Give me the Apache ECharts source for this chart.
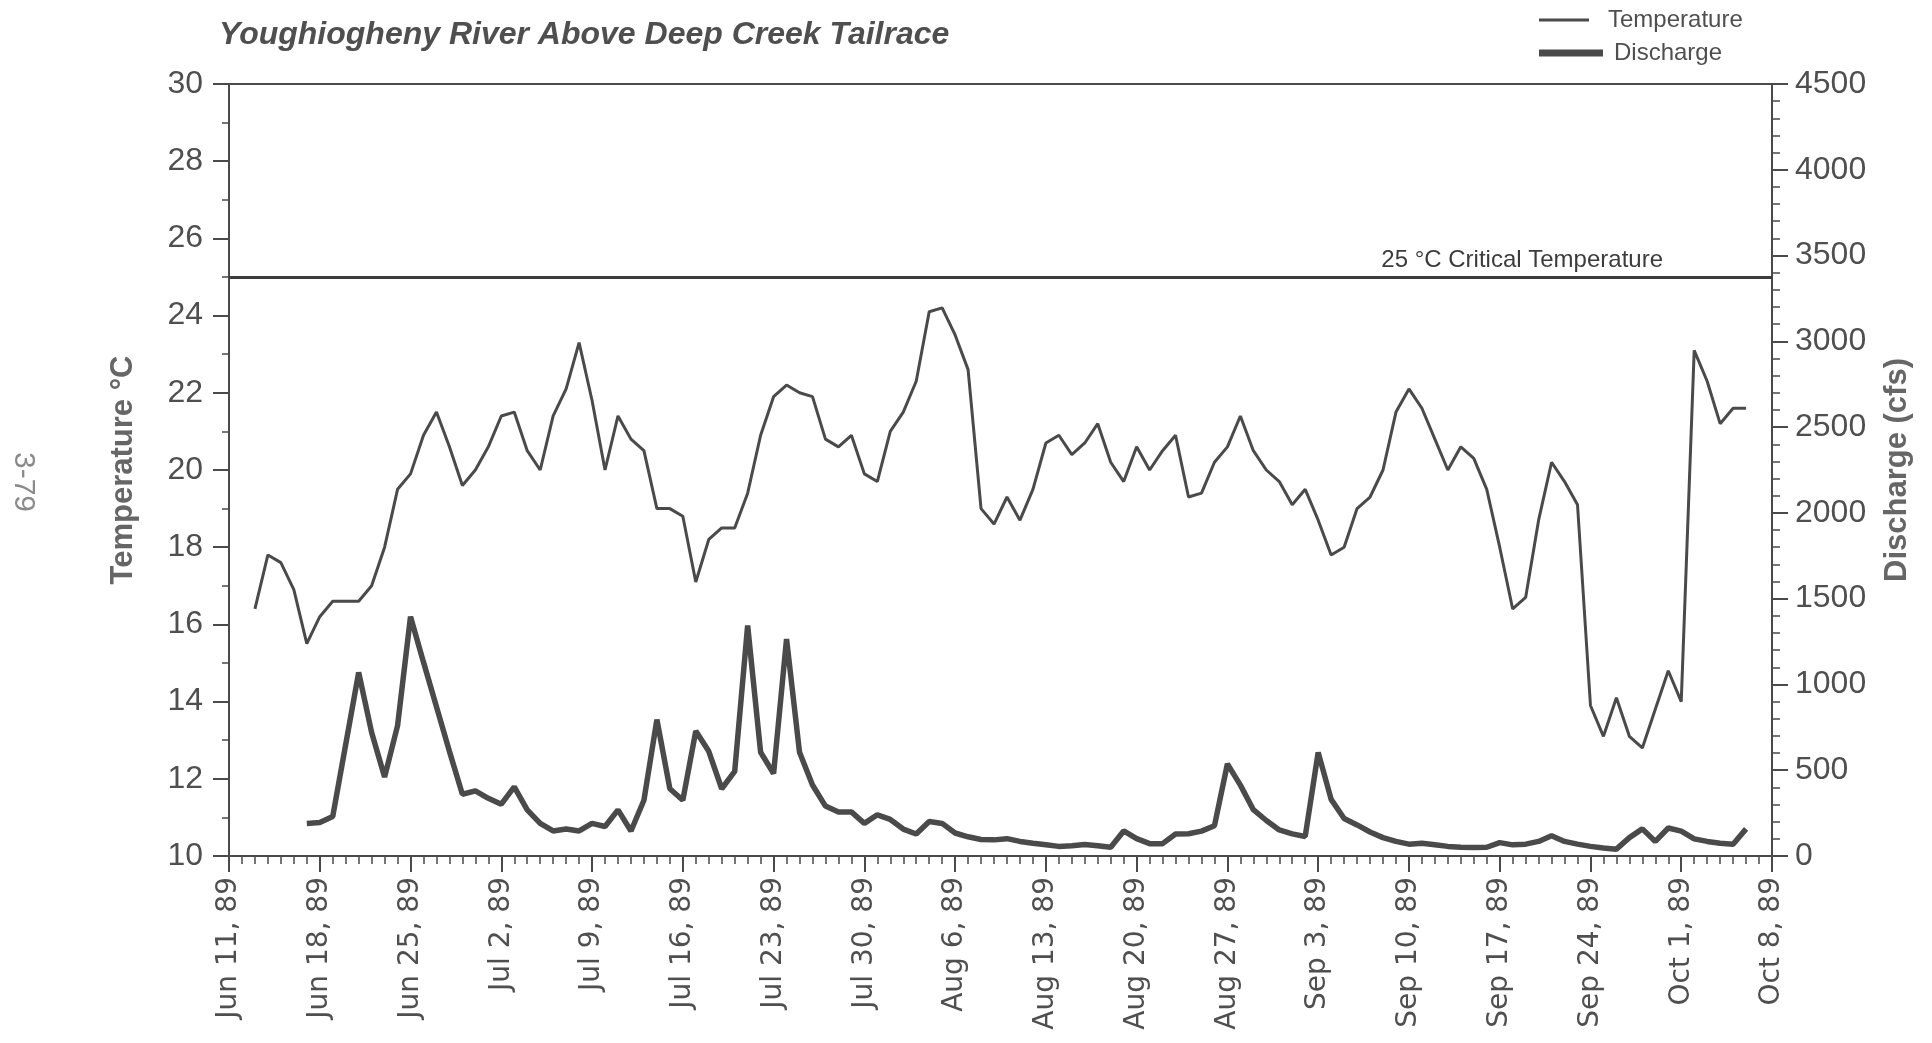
<!DOCTYPE html>
<html>
<head>
<meta charset="utf-8">
<script src="https://cdn.jsdelivr.net/npm/echarts@6/dist/echarts.min.js"></script>
<style>
html,body{margin:0;padding:0;background:#fff;}
#chart{width:1932px;height:1043px;}
</style>
</head>
<body>
<div id="chart"></div>
<script>
// Axis: days counted from Jun 11, 1989 (day 0) to Oct 8, 1989 (day 119)
const weekLabels = ['Jun 11, 89','Jun 18, 89','Jun 25, 89','Jul 2, 89','Jul 9, 89','Jul 16, 89','Jul 23, 89','Jul 30, 89','Aug 6, 89','Aug 13, 89','Aug 20, 89','Aug 27, 89','Sep 3, 89','Sep 10, 89','Sep 17, 89','Sep 24, 89','Oct 1, 89','Oct 8, 89'];
const axisStartDate = '1989-06-11';

// Daily water temperature (°C), first value on Jun 13, 1989
const tempStartDate = '1989-06-13';
const temperature = [
  16.4,17.8,17.6,16.9,15.5,16.2,16.6,16.6,16.6,17.0,18.0,19.5,19.9,20.9,21.5,20.6,19.6,20.0,20.6,21.4,
  21.5,20.5,20.0,21.4,22.1,23.3,21.8,20.0,21.4,20.8,20.5,19.0,19.0,18.8,17.1,18.2,18.5,18.5,19.4,20.9,
  21.9,22.2,22.0,21.9,20.8,20.6,20.9,19.9,19.7,21.0,21.5,22.3,24.1,24.2,23.5,22.6,19.0,18.6,19.3,18.7,
  19.5,20.7,20.9,20.4,20.7,21.2,20.2,19.7,20.6,20.0,20.5,20.9,19.3,19.4,20.2,20.6,21.4,20.5,20.0,19.7,
  19.1,19.5,18.7,17.8,18.0,19.0,19.3,20.0,21.5,22.1,21.6,20.8,20.0,20.6,20.3,19.5,18.0,16.4,16.7,18.7,
  20.2,19.7,19.1,13.9,13.1,14.1,13.1,12.8,13.8,14.8,14.0,23.1,22.3,21.2,21.6,21.6
];

// Daily discharge (cfs), first value on Jun 17, 1989
const dischargeStartDate = '1989-06-17';
const discharge = [
  190,195,230,650,1070,720,460,760,1395,1130,870,610,360,380,336,302,403,269,190,146,
  157,146,190,172,269,146,325,795,392,325,728,610,392,493,1343,605,481,1265,605,414,
  291,257,257,190,240,213,157,128,201,190,134,112,96,94,101,85,74,65,56,60,
  67,60,51,146,101,72,72,128,130,145,176,537,413,270,207,152,129,114,604,330,
  219,181,140,107,85,69,74,65,56,51,49,51,78,65,69,85,118,85,69,56,
  47,40,107,158,85,163,145,100,85,74,69,158
];

const criticalTemp = 25;

function dayOffset(dateStr){
  return Math.round((Date.parse(dateStr) - Date.parse(axisStartDate)) / 86400000);
}
function toXY(startDate, values){
  const s = dayOffset(startDate);
  return values.map((v,i)=>[s+i, v]);
}

const LINE = '#4a4a4a';
const TXT = '#4f4f4f';
const FONT = '"Liberation Sans", Arial, Helvetica, sans-serif';
const WIDE = '"DejaVu Sans", Verdana, sans-serif';

const chart = echarts.init(document.getElementById('chart'));
chart.setOption({
  backgroundColor:'#fff',
  animation:false,
  title:{
    text:'Youghiogheny River Above Deep Creek Tailrace',
    left:214, top:14,
    textStyle:{fontFamily:FONT, fontSize:32, fontWeight:'bold', fontStyle:'italic', color:TXT}
  },
  legend:[
    {data:[{name:'Temperature', icon:'rect'}], left:1534, top:3, itemWidth:50, itemHeight:3, itemGap:0,
     textStyle:{fontFamily:FONT, fontSize:24, color:TXT, padding:[0,0,0,14]}},
    {data:[{name:'Discharge', icon:'rect'}], left:1534, top:36, itemWidth:64, itemHeight:7, itemGap:0,
     textStyle:{fontFamily:FONT, fontSize:24, color:TXT, padding:[0,0,0,6]}}
  ],
  graphic:[
    {type:'text', x:38, y:452, rotation:-Math.PI/2,
     style:{text:'3-79', fontFamily:FONT, fontSize:30, fill:'#8a8a8a', align:'left', verticalAlign:'top'}}
  ],
  grid:{left:229, right:160, top:84, bottom:187, show:true, borderColor:LINE, borderWidth:2, backgroundColor:'transparent'},
  xAxis:{
    type:'value', min:0, max:119, interval:7,
    axisLine:{show:true, onZero:false, lineStyle:{color:LINE, width:2}},
    axisTick:{show:true, inside:false, length:16, lineStyle:{color:LINE, width:2}},
    minorTick:{show:true, splitNumber:7, length:8, lineStyle:{color:LINE, width:1.5}},
    splitLine:{show:false},
    axisLabel:{rotate:90, margin:21, fontFamily:WIDE, fontSize:28, color:TXT,
      formatter:(v)=>weekLabels[Math.round(v/7)] || ''}
  },
  yAxis:[
    {type:'value', min:10, max:30, interval:2, position:'left',
     name:'Temperature °C', nameLocation:'middle', nameRotate:90, nameGap:90,
     nameTextStyle:{fontFamily:FONT, fontSize:31, fontWeight:'bold', color:'#666'},
     axisLine:{show:true, lineStyle:{color:LINE, width:2}},
     axisTick:{show:true, length:16, lineStyle:{color:LINE, width:2}},
     minorTick:{show:true, splitNumber:2, length:7, lineStyle:{color:LINE, width:1.5}},
     splitLine:{show:false},
     axisLabel:{margin:26, fontFamily:FONT, fontSize:32, color:TXT}},
    {type:'value', min:0, max:4500, interval:500, position:'right',
     name:'Discharge (cfs)', nameLocation:'middle', nameRotate:90, nameGap:110,
     nameTextStyle:{fontFamily:FONT, fontSize:31, fontWeight:'bold', color:'#666'},
     axisLine:{show:true, lineStyle:{color:LINE, width:2}},
     axisTick:{show:true, length:16, lineStyle:{color:LINE, width:2}},
     minorTick:{show:true, splitNumber:5, length:8, lineStyle:{color:LINE, width:1.5}},
     splitLine:{show:false},
     axisLabel:{margin:23, fontFamily:FONT, fontSize:32, color:TXT, formatter:(v)=>String(v)}}
  ],
  series:[
    {name:'Temperature', type:'line', yAxisIndex:0, data:toXY(tempStartDate, temperature),
     showSymbol:false, symbol:'none', itemStyle:{color:LINE},
     lineStyle:{color:LINE, width:3}, z:3,
     markLine:{silent:true, symbol:'none', animation:false,
       lineStyle:{color:'#3c3c3c', width:3, type:'solid'},
       label:{show:true, position:'insideEndTop', formatter:'25 °C Critical Temperature',
              fontFamily:FONT, fontSize:24, color:'#3c3c3c', padding:[0,104,0,0]},
       data:[{yAxis:criticalTemp}]}},
    {name:'Discharge', type:'line', yAxisIndex:1, data:toXY(dischargeStartDate, discharge),
     showSymbol:false, symbol:'none', itemStyle:{color:LINE},
     lineStyle:{color:LINE, width:5.5}, z:2}
  ]
});
</script>
</body>
</html>
